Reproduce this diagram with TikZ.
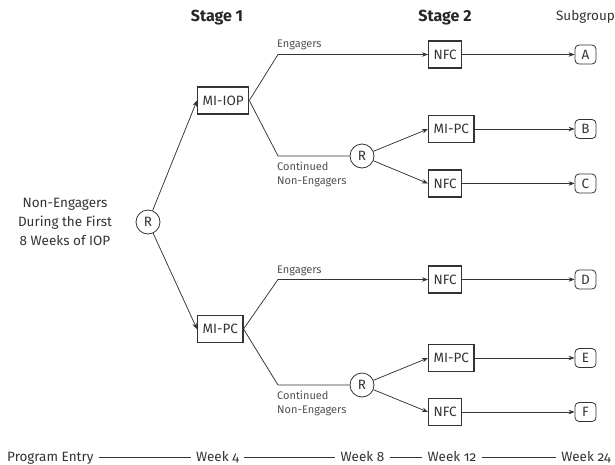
\documentclass[tikz,border=0pt]{standalone}
\usepackage{fontspec}
\setmainfont{Fira Sans}[Numbers=OldStyle]
\usetikzlibrary{arrows.meta}
\definecolor{ink}{HTML}{333333}
\definecolor{soft}{HTML}{505050}
\definecolor{dark}{HTML}{262626}
\begin{document}
\begin{tikzpicture}[x=1pt,y=-1pt,
  every node/.style={text=ink},
  main/.style={font=\fontsize{13.5}{19}\selectfont},
  boxnode/.style={main, draw=ink, line width=1.2pt, minimum height=27pt, inner xsep=5pt, inner ysep=0pt},
  rnode/.style={main, draw=ink, line width=0.8pt, circle, minimum size=24pt, inner sep=0pt},
  subnode/.style={main, draw=ink, line width=0.8pt, rounded corners=4pt, minimum width=21pt, minimum height=19pt, inner sep=0pt},
  lab/.style={font=\fontsize{11}{14}\selectfont, text=soft, inner sep=0pt},
  conn/.style={draw=ink, line width=0.75pt},
  arr/.style={conn, -{Stealth[length=6pt,width=4.5pt]}},
  title/.style={font=\bfseries\fontsize{16}{19}\selectfont\addfontfeatures{Numbers=Lining}, text=dark, inner sep=0pt},
  tl/.style={main, text height=9.5pt, text depth=3pt, inner xsep=5pt, inner ysep=0pt},
]
\useasboundingbox (0,0) rectangle (615,464);

% titles
\node[title, anchor=base] (s1) at (217,21.5) {Stage 1};
\node[title, anchor=base] (s2) at (445,21.5) {Stage 2};
\node[main, anchor=base, inner sep=0pt] (sg) at (585.5,20.7) {Subgroup};

% root
\node[main, align=center, anchor=north, inner sep=0pt] (ne) at (65,198) {Non-Engagers\\During the First\\8 Weeks of IOP};
\node[rnode] (r0) at (148,222) {R};

% stage 1
\node[boxnode, anchor=west] (miiop) at (197,100.5) {MI-IOP};
\node[boxnode, anchor=west] (mipc1) at (197,329) {MI-PC};

% corners
\coordinate (c1) at (278,54.5);
\coordinate (c2) at (278,156);
\coordinate (c3) at (278,279.5);
\coordinate (c4) at (278,385);

% second randomisations
\node[rnode] (r1) at (362,156) {R};
\node[rnode] (r2) at (362,385) {R};

% stage 2
\node[boxnode, anchor=west] (nfcA) at (428,54.5) {NFC};
\node[boxnode, anchor=west] (mipcB) at (428,129) {MI-PC};
\node[boxnode, anchor=west] (nfcC) at (428,183.5) {NFC};
\node[boxnode, anchor=west] (nfcD) at (428,279.5) {NFC};
\node[boxnode, anchor=west] (mipcE) at (428,358) {MI-PC};
\node[boxnode, anchor=west] (nfcF) at (428,412) {NFC};

% subgroups
\node[subnode] (A) at (585.5,54.5) {A};
\node[subnode] (B) at (585.5,129) {B};
\node[subnode] (C) at (585.5,183.5) {C};
\node[subnode] (D) at (585.5,279.5) {D};
\node[subnode] (E) at (585.5,358) {E};
\node[subnode] (F) at (585.5,412) {F};

% labels
\node[lab, anchor=base west] (le1) at (277,47) {Engagers};
\node[lab, anchor=base west] (le2) at (277,273) {Engagers};
\node[lab, anchor=north west, align=left] (lc1) at (277,162) {Continued\\Non-Engagers};
\node[lab, anchor=north west, align=left] (lc2) at (277,391) {Continued\\Non-Engagers};

% connectors
\draw[arr] (r0) -- (miiop.west);
\draw[arr] (r0) -- (mipc1.west);
\draw[arr] (miiop.east) -- (c1) -- (nfcA.west);
\draw[conn] (miiop.east) -- (c2) -- (r1);
\draw[arr] (mipc1.east) -- (c3) -- (nfcD.west);
\draw[conn] (mipc1.east) -- (c4) -- (r2);
\draw[arr] (r1) -- (mipcB.west);
\draw[arr] (r1) -- (nfcC.west);
\draw[arr] (r2) -- (mipcE.west);
\draw[arr] (r2) -- (nfcF.west);
\draw[arr] (nfcA.east) -- (A.west);
\draw[arr] (mipcB.east) -- (B.west);
\draw[arr] (nfcC.east) -- (C.west);
\draw[arr] (nfcD.east) -- (D.west);
\draw[arr] (mipcE.east) -- (E.west);
\draw[arr] (nfcF.east) -- (F.west);

% timeline
\node[tl, anchor=base west] (pe) at (2,461) {Program Entry};
\node[tl, anchor=base] (w4) at (217.5,461) {Week 4};
\node[tl, anchor=base] (w8) at (362.5,461) {Week 8};
\node[tl, anchor=base] (w12) at (452,461) {Week 12};
\node[tl, anchor=base] (w24) at (586,461) {Week 24};
\draw[conn] (pe.east) -- (w4.west);
\draw[conn] (w4.east) -- (w8.west);
\draw[conn] (w8.east) -- (w12.west);
\draw[conn] (w12.east) -- (w24.west);
\end{tikzpicture}
\end{document}
